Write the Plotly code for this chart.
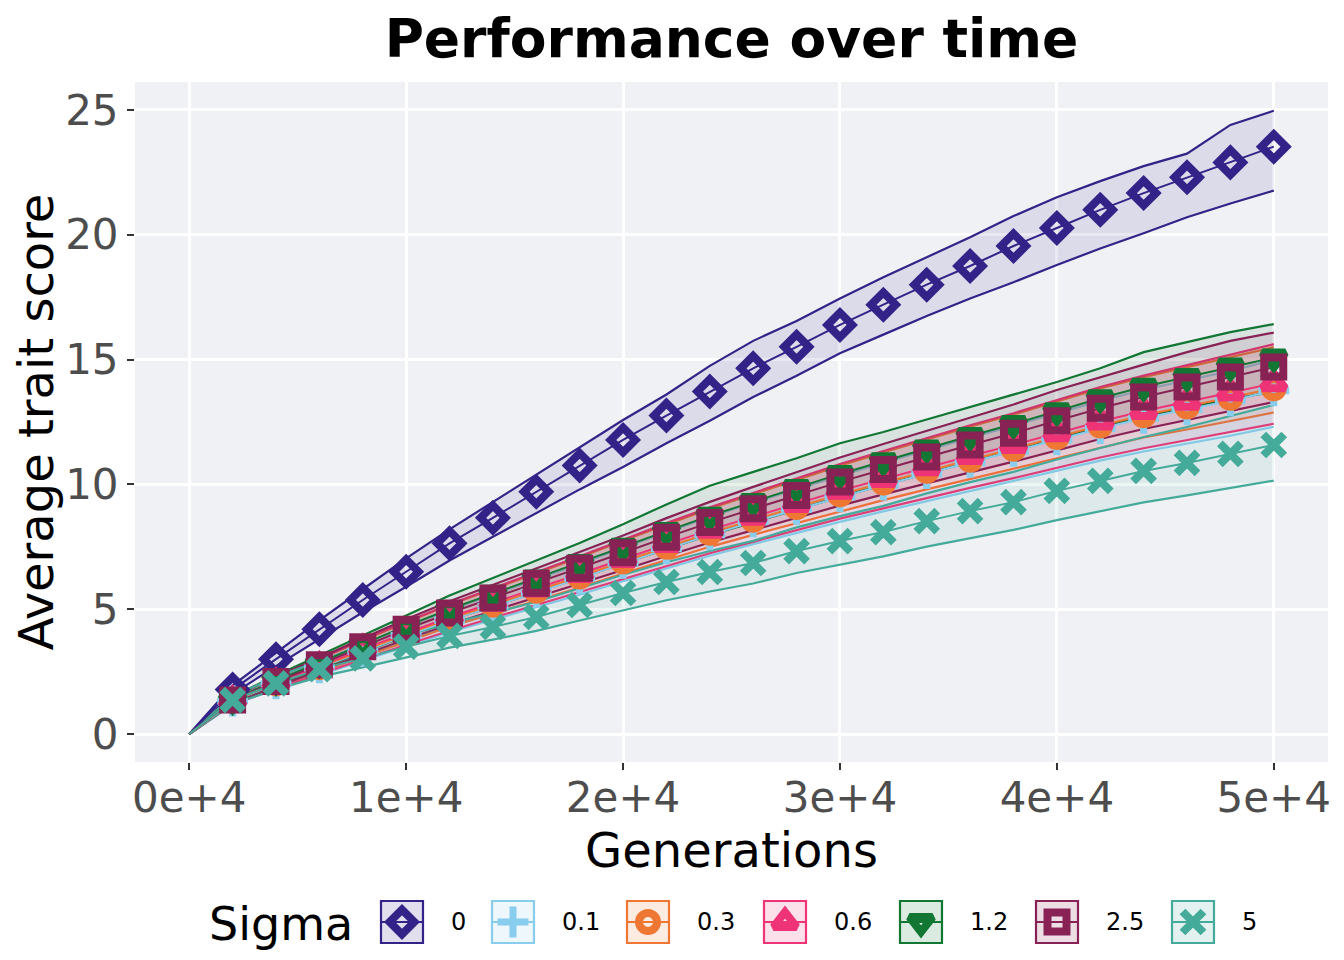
import plotly.graph_objects as go

generations = list(range(0, 50001, 2000))

sigma_labels = ["0", "0.1", "0.3", "0.6", "1.2", "2.5", "5"]
colors = ["#332288", "#88CCEE", "#EE7733", "#EE3377", "#117733", "#882255", "#44AA99"]

mean_0 = [0, 1.78, 3.0, 4.2, 5.37, 6.5, 7.64, 8.66, 9.71, 10.76, 11.78, 12.76, 13.72, 14.65, 15.51, 16.39, 17.2, 18.0, 18.75, 19.55, 20.27, 21.0, 21.67, 22.3, 22.9, 23.53]
upper_0 = [0, 1.95, 3.25, 4.55, 5.8, 7.04, 8.2, 9.3, 10.4, 11.5, 12.58, 13.6, 14.75, 15.75, 16.55, 17.45, 18.3, 19.1, 19.9, 20.75, 21.5, 22.15, 22.75, 23.25, 24.4, 24.97]
lower_0 = [0, 1.6, 2.72, 3.8, 4.88, 5.9, 6.95, 7.9, 8.85, 9.8, 10.7, 11.65, 12.55, 13.5, 14.35, 15.25, 16.0, 16.75, 17.45, 18.1, 18.79, 19.45, 20.06, 20.7, 21.25, 21.77]

mean_01 = [0, 1.32, 2.01, 2.65, 3.32, 3.95, 4.56, 5.12, 5.68, 6.24, 6.84, 7.42, 7.98, 8.5, 9.0, 9.5, 9.97, 10.43, 10.88, 11.32, 11.78, 12.24, 12.65, 13.0, 13.35, 13.75]
upper_01 = [0, 1.44, 2.19, 2.89, 3.62, 4.31, 4.97, 5.58, 6.19, 6.8, 7.46, 8.09, 8.7, 9.27, 9.81, 10.36, 10.87, 11.37, 11.86, 12.34, 12.84, 13.34, 13.79, 14.17, 14.55, 14.99]
lower_01 = [0, 1.18, 1.8, 2.37, 2.97, 3.54, 4.08, 4.58, 5.08, 5.58, 6.12, 6.64, 7.14, 7.61, 8.06, 8.5, 8.92, 9.33, 9.74, 10.13, 10.54, 10.95, 11.32, 11.64, 11.95, 12.31]

mean_03 = [0, 1.33, 2.03, 2.68, 3.36, 4.0, 4.62, 5.18, 5.74, 6.31, 6.91, 7.5, 8.06, 8.58, 9.09, 9.6, 10.07, 10.54, 10.99, 11.43, 11.9, 12.36, 12.77, 13.12, 13.47, 13.85]
upper_03 = [0, 1.49, 2.27, 3.0, 3.76, 4.48, 5.17, 5.8, 6.43, 7.07, 7.74, 8.4, 9.03, 9.61, 10.18, 10.75, 11.28, 11.8, 12.31, 12.8, 13.33, 13.84, 14.3, 14.69, 15.09, 15.5]
lower_03 = [0, 1.24, 1.89, 2.49, 3.12, 3.72, 4.3, 4.82, 5.34, 5.87, 6.43, 6.98, 7.5, 7.98, 8.45, 8.93, 9.37, 9.8, 10.22, 10.63, 11.07, 11.49, 11.88, 12.2, 12.53, 12.88]

mean_06 = [0, 1.34, 2.05, 2.71, 3.41, 4.05, 4.68, 5.26, 5.83, 6.41, 7.01, 7.61, 8.18, 8.7, 9.22, 9.75, 10.22, 10.69, 11.14, 11.58, 12.05, 12.52, 12.94, 13.31, 13.68, 14.05]
upper_06 = [0, 1.49, 2.28, 3.01, 3.79, 4.5, 5.2, 5.84, 6.47, 7.12, 7.78, 8.45, 9.08, 9.66, 10.23, 10.82, 11.34, 11.87, 12.37, 12.85, 13.38, 13.9, 14.36, 14.77, 15.2, 15.62]
lower_06 = [0, 1.19, 1.81, 2.4, 3.02, 3.58, 4.14, 4.66, 5.16, 5.67, 6.2, 6.73, 7.24, 7.7, 8.16, 8.63, 9.04, 9.46, 9.86, 10.25, 10.66, 11.08, 11.45, 11.78, 12.1, 12.43]

mean_12 = [0, 1.38, 2.15, 2.85, 3.6, 4.32, 5.0, 5.62, 6.23, 6.85, 7.5, 8.13, 8.74, 9.3, 9.86, 10.42, 10.93, 11.44, 11.94, 12.42, 12.93, 13.45, 13.91, 14.3, 14.72, 15.08]
upper_12 = [0, 1.5, 2.35, 3.15, 3.95, 4.75, 5.55, 6.25, 6.95, 7.65, 8.4, 9.2, 9.95, 10.5, 11.05, 11.65, 12.1, 12.6, 13.1, 13.6, 14.1, 14.65, 15.3, 15.7, 16.1, 16.42]
lower_12 = [0, 1.26, 1.96, 2.6, 3.28, 3.94, 4.56, 5.12, 5.68, 6.25, 6.84, 7.42, 7.98, 8.48, 9.0, 9.5, 9.98, 10.45, 10.9, 11.35, 11.82, 12.3, 12.72, 13.08, 13.4, 13.72]

mean_25 = [0, 1.36, 2.1, 2.78, 3.5, 4.2, 4.85, 5.45, 6.04, 6.64, 7.26, 7.88, 8.47, 9.02, 9.56, 10.1, 10.6, 11.1, 11.58, 12.05, 12.55, 13.05, 13.5, 13.9, 14.3, 14.7]
upper_25 = [0, 1.49, 2.3, 3.05, 3.84, 4.6, 5.32, 5.98, 6.62, 7.28, 7.95, 8.65, 9.3, 9.9, 10.5, 11.08, 11.62, 12.15, 12.68, 13.2, 13.78, 14.3, 14.8, 15.3, 15.75, 16.08]
lower_25 = [0, 1.23, 1.9, 2.52, 3.17, 3.8, 4.39, 4.93, 5.47, 6.01, 6.57, 7.13, 7.67, 8.17, 8.66, 9.15, 9.6, 10.05, 10.48, 10.91, 11.36, 11.82, 12.22, 12.58, 12.95, 13.3]

mean_5 = [0, 1.36, 2.03, 2.6, 3.03, 3.5, 3.93, 4.29, 4.69, 5.17, 5.65, 6.09, 6.49, 6.85, 7.33, 7.73, 8.09, 8.53, 8.93, 9.29, 9.74, 10.14, 10.54, 10.86, 11.22, 11.58]
upper_5 = [0, 1.52, 2.28, 2.93, 3.42, 3.95, 4.44, 4.85, 5.3, 5.84, 6.38, 6.88, 7.33, 7.74, 8.28, 8.73, 9.14, 9.64, 10.09, 10.5, 11.0, 11.46, 11.9, 12.3, 12.75, 13.18]
lower_5 = [0, 1.2, 1.79, 2.29, 2.67, 3.08, 3.46, 3.78, 4.13, 4.55, 4.97, 5.36, 5.71, 6.03, 6.45, 6.8, 7.12, 7.51, 7.86, 8.18, 8.57, 8.92, 9.28, 9.56, 9.87, 10.15]

x_tick_vals = [0, 10000, 20000, 30000, 40000, 50000]
x_tick_text = ["0e+4", "1e+4", "2e+4", "3e+4", "4e+4", "5e+4"]
y_tick_vals = [0, 5, 10, 15, 20, 25]

means = [mean_0, mean_01, mean_03, mean_06, mean_12, mean_25, mean_5]
uppers = [upper_0, upper_01, upper_03, upper_06, upper_12, upper_25, upper_5]
lowers = [lower_0, lower_01, lower_03, lower_06, lower_12, lower_25, lower_5]

# ---- styles / layout constants (figure pixels; page adds an 8px body margin) ----
W, H = 1344, 960
PLOT_L, PLOT_R, PLOT_T, PLOT_B = 127, 1320, 74, 754
BG = "#F0F1F5"

# marker styles: (symbol, size, line width)
styles = [
    ("diamond-open", 19, 8),
    ("cross-thin-open", 22, 7),
    ("circle-open", 18, 8),
    ("triangle-up-open", 20, 8),
    ("triangle-down-open", 20, 8),
    ("square-open", 19, 8),
    ("x-thin-open", 21, 8),
]

# legend key geometry in pixels (layout only)
key_left = [373, 484, 619, 756, 892, 1028, 1164]
key_size = 42
key_cy = 914
LEG_TOP = 850


def rgba(hexc, a):
    h = hexc.lstrip("#")
    r, g, b = int(h[0:2], 16), int(h[2:4], 16), int(h[4:6], 16)
    return f"rgba({r},{g},{b},{a})"


fig = go.Figure()

# ribbons with their border lines
for i, lab in enumerate(sigma_labels):
    c = colors[i]
    fig.add_trace(go.Scatter(x=generations, y=lowers[i], mode="lines",
                             line=dict(color=c, width=2.2), showlegend=False,
                             hoverinfo="skip"))
    fig.add_trace(go.Scatter(x=generations, y=uppers[i], mode="lines",
                             line=dict(color=c, width=2.2), fill="tonexty",
                             fillcolor=rgba(c, 0.1), showlegend=False,
                             hoverinfo="skip"))

# mean lines
for i, lab in enumerate(sigma_labels):
    fig.add_trace(go.Scatter(x=generations, y=means[i], mode="lines",
                             line=dict(color=colors[i], width=2),
                             showlegend=False, hoverinfo="skip"))

# markers
for i, lab in enumerate(sigma_labels):
    sym, sz, lw = styles[i]
    fig.add_trace(go.Scatter(x=generations[1:], y=means[i][1:], mode="markers",
                             marker=dict(symbol=sym, size=sz, color=colors[i],
                                         line=dict(color=colors[i], width=lw)),
                             showlegend=False, hoverinfo="skip"))

# ---- panel background ----
shapes = [dict(type="rect", xref="x domain", yref="y domain", x0=0, x1=1, y0=0, y1=1,
               fillcolor=BG, line=dict(width=0), layer="below")]
annotations = []

# ---- manual legend drawn on a pixel-scaled overlay axis ----
for i, lab in enumerate(sigma_labels):
    c = colors[i]
    x0 = key_left[i]
    x1 = x0 + key_size
    y0 = key_cy - key_size / 2
    y1 = key_cy + key_size / 2
    shapes.append(dict(type="rect", xref="x2", yref="y2", x0=x0, x1=x1, y0=y0, y1=y1,
                       fillcolor=rgba(c, 0.15), line=dict(color=c, width=2.2), layer="below"))
    shapes.append(dict(type="line", xref="x2", yref="y2", x0=x0 + 1, x1=x1 - 1,
                       y0=key_cy, y1=key_cy, line=dict(color=c, width=2)))
    sym, sz, lw = styles[i]
    fig.add_trace(go.Scatter(x=[(x0 + x1) / 2], y=[key_cy], xaxis="x2", yaxis="y2",
                             mode="markers", showlegend=False, hoverinfo="skip",
                             marker=dict(symbol=sym, size=sz, color=c,
                                         line=dict(color=c, width=lw))))
    annotations.append(dict(text=lab, xref="x2", yref="y2", x=x1 + 26, y=key_cy,
                            xanchor="left", yanchor="middle", showarrow=False,
                            font=dict(size=24, color="black", family="DejaVu Sans")))

annotations.append(dict(text="Sigma", xref="x2", yref="y2", x=199, y=key_cy + 2,
                        xanchor="left", yanchor="middle", showarrow=False,
                        font=dict(size=46, color="black", family="DejaVu Sans")))

fig.update_layout(
    width=W, height=H, autosize=False,
    paper_bgcolor="white",
    plot_bgcolor="white",
    font=dict(family="DejaVu Sans", color="black"),
    margin=dict(l=0, r=0, t=0, b=0, pad=0),
    showlegend=False,
    title=dict(text="Performance over time", x=(PLOT_L + PLOT_R) / 2 / W, xref="container",
               xanchor="center", y=1 - 30 / H, yref="container", yanchor="middle",
               font=dict(size=53.5, family="DejaVu Sans", weight="bold", color="black")),
    shapes=shapes,
    annotations=annotations,
    xaxis=dict(
        domain=[PLOT_L / W, PLOT_R / W], anchor="y", automargin=False,
        range=[-2500, 52500], tickvals=x_tick_vals, ticktext=x_tick_text,
        showgrid=True, gridcolor="white", gridwidth=2.5, zeroline=False,
        ticks="outside", ticklen=7, tickwidth=2, tickcolor="#333333",
        ticklabelstandoff=-8,
        tickfont=dict(size=42, color="#4D4D4D"),
        title=dict(text="Generations", font=dict(size=48, color="black"), standoff=0),
        showline=False,
    ),
    yaxis=dict(
        domain=[1 - PLOT_B / H, 1 - PLOT_T / H], anchor="x", automargin=False,
        range=[-1.12, 26.12], tickvals=y_tick_vals,
        showgrid=True, gridcolor="white", gridwidth=2.5, zeroline=False,
        ticks="outside", ticklen=7, tickwidth=2, tickcolor="#333333",
        tickfont=dict(size=42, color="#4D4D4D"),
        title=dict(text="Average trait score", font=dict(size=48, color="black"), standoff=0),
        showline=False,
    ),
    xaxis2=dict(domain=[0, 1], anchor="y2", range=[0, W], visible=False,
                fixedrange=True, automargin=False),
    yaxis2=dict(domain=[0, (H - LEG_TOP) / H], anchor="x2", range=[H, LEG_TOP],
                visible=False, fixedrange=True, automargin=False),
)

fig.write_html("out.html")
